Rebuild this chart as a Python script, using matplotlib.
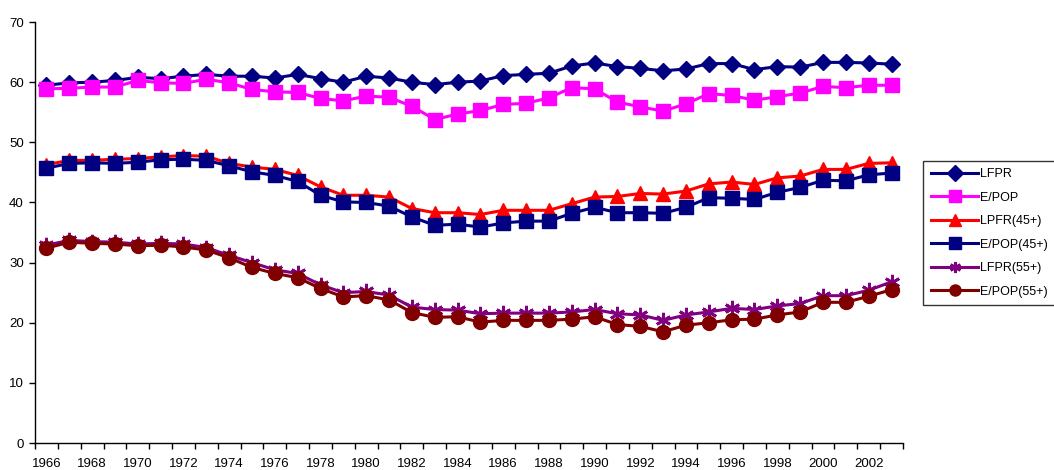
import numpy as np
import matplotlib
matplotlib.use("Agg")
import matplotlib.pyplot as plt

plt.rcParams['font.family'] = ['Liberation Sans', 'DejaVu Sans']

years = list(range(1966, 2004))

lfpr = [59.5, 59.9, 60.0, 60.3, 60.8, 60.6, 61.0, 61.3, 61.0, 61.0,
        60.7, 61.3, 60.6, 60.0, 61.0, 60.7, 60.0, 59.6, 60.0, 60.2,
        61.1, 61.3, 61.5, 62.7, 63.2, 62.6, 62.3, 61.9, 62.2, 63.1,
        63.1, 62.1, 62.6, 62.5, 63.3, 63.3, 63.2, 63.0]
epop = [58.9, 59.0, 59.2, 59.2, 60.3, 59.9, 59.8, 60.5, 59.9, 58.8,
        58.4, 58.3, 57.3, 56.9, 57.7, 57.5, 56.0, 53.8, 54.7, 55.3,
        56.3, 56.5, 57.4, 59.1, 58.9, 56.7, 55.9, 55.2, 56.4, 58.1,
        57.8, 57.0, 57.6, 58.2, 59.3, 59.1, 59.5, 59.5]
lfpr45 = [46.3, 47.0, 47.0, 47.2, 47.3, 47.6, 47.8, 47.7, 46.5, 45.9,
          45.5, 44.5, 42.6, 41.2, 41.2, 40.9, 39.0, 38.3, 38.3, 38.0,
          38.7, 38.7, 38.7, 39.8, 40.9, 41.0, 41.5, 41.4, 41.9, 43.1,
          43.4, 43.0, 44.1, 44.4, 45.5, 45.5, 46.5, 46.6]
epop45 = [45.7, 46.5, 46.6, 46.5, 46.7, 47.1, 47.2, 47.0, 46.1, 45.1,
          44.5, 43.5, 41.2, 40.1, 40.0, 39.4, 37.6, 36.2, 36.4, 35.9,
          36.6, 36.9, 36.9, 38.2, 39.2, 38.3, 38.3, 38.2, 39.2, 40.8,
          40.7, 40.5, 41.7, 42.5, 43.7, 43.6, 44.6, 44.9]
lfpr55 = [32.9, 33.7, 33.5, 33.4, 33.1, 33.2, 33.1, 32.5, 31.2, 30.0,
          28.8, 28.2, 26.3, 25.0, 25.2, 24.6, 22.6, 22.2, 22.1, 21.5,
          21.6, 21.6, 21.6, 21.8, 22.2, 21.5, 21.3, 20.4, 21.3, 21.8,
          22.4, 22.2, 22.8, 23.2, 24.5, 24.5, 25.4, 26.8]
epop55 = [32.4, 33.4, 33.2, 33.1, 32.8, 32.9, 32.6, 32.1, 30.8, 29.2,
          28.2, 27.5, 25.7, 24.3, 24.5, 23.8, 21.7, 20.9, 21.0, 20.1,
          20.4, 20.4, 20.4, 20.6, 21.0, 19.7, 19.4, 18.5, 19.6, 20.0,
          20.5, 20.6, 21.3, 21.8, 23.4, 23.4, 24.4, 25.5]

x = np.arange(len(years))

fig = plt.figure(figsize=(10.54, 4.70), dpi=100)
ax = fig.add_axes([0.0332, 0.0574, 0.8235, 0.8956])

lw = 2.2
ax.plot(x, lfpr, color='#000080', lw=lw, marker='D', ms=8, label='LFPR')
ax.plot(x, epop, color='#FF00FF', lw=lw, marker='s', ms=10, label='E/POP')
ax.plot(x, lfpr45, color='#FF0000', lw=lw, marker='^', ms=10, label='LPFR(45+)')
ax.plot(x, epop45, color='#000080', lw=lw, marker='s', ms=10, label='E/POP(45+)')
ax.plot(x, lfpr55, color='#800080', lw=lw, marker=(6, 2, 0), ms=11, mew=2,
        label='LFPR(55+)')
ax.plot(x, epop55, color='#800000', lw=lw, marker='o', ms=10, label='E/POP(55+)')

ax.set_xlim(-0.5, len(years) - 0.5)
ax.set_ylim(0, 70)
ax.set_yticks(range(0, 71, 10))

# tick marks between categories, labels every second year
ax.set_xticks(np.arange(-0.5, len(years), 1.0))
ax.set_xticklabels([])
ax.set_xticks(x[::2], minor=True)
ax.set_xticklabels([str(y) for y in years[::2]], minor=True)
ax.tick_params(axis='x', which='minor', length=0, pad=11, labelsize=9.5)
ax.tick_params(axis='x', which='major', length=4, direction='out', width=1)
ax.tick_params(axis='y', length=4, direction='out', width=1, labelsize=9.5, pad=4)

for s in ['top', 'right']:
    ax.spines[s].set_visible(False)
for s in ['left', 'bottom']:
    ax.spines[s].set_color('black')
    ax.spines[s].set_linewidth(1)

leg = fig.legend(loc='upper left', bbox_to_anchor=(0.876, 0.658), fontsize=9,
                 frameon=True, fancybox=False, edgecolor='black',
                 handlelength=3.8, labelspacing=0.92, borderpad=0.6,
                 handletextpad=0.15, borderaxespad=0)
leg.get_frame().set_linewidth(1)
for h in leg.legend_handles:
    h.set_markersize(8)

fig.savefig('out.png', dpi=100)
